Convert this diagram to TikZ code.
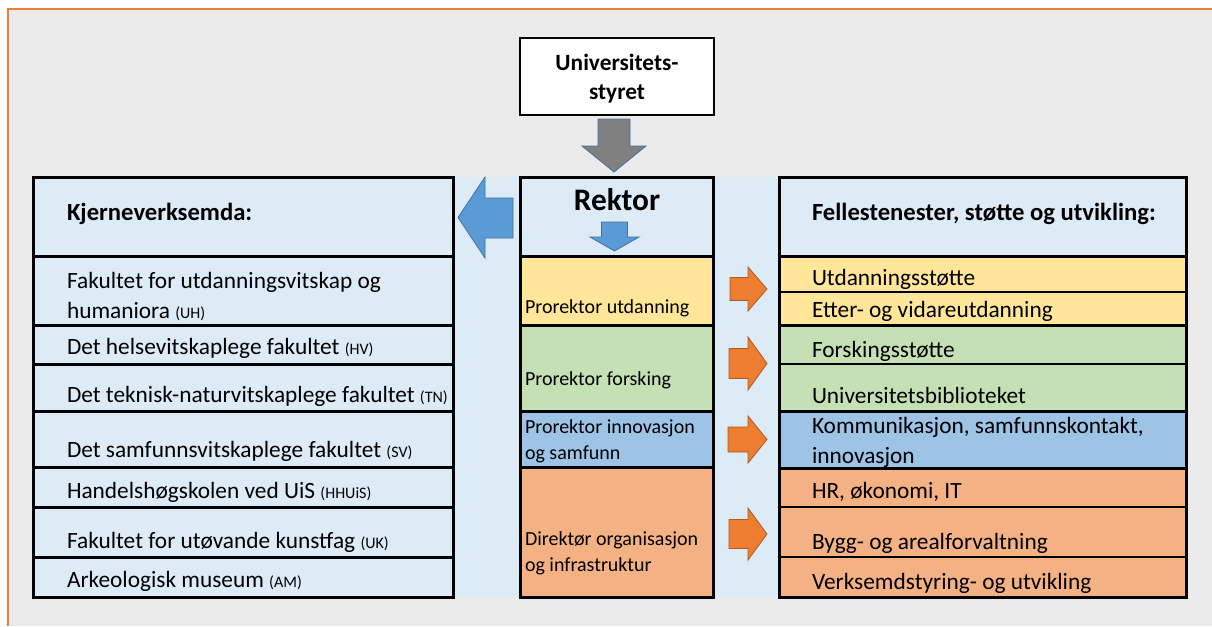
\documentclass[tikz,border=0pt]{standalone}
\usepackage{fontspec}
\setmainfont{Carlito}
\usetikzlibrary{fit}

\definecolor{pageback}{HTML}{EBEBEB}
\definecolor{frameorange}{HTML}{ED7D31}
\definecolor{paleblue}{HTML}{DDEBF7}
\definecolor{rowyellow}{HTML}{FFE699}
\definecolor{rowgreen}{HTML}{C5E0B4}
\definecolor{rowblue}{HTML}{9DC3E6}
\definecolor{roworange}{HTML}{F4B183}
\definecolor{arrowblue}{HTML}{5B9BD5}
\definecolor{arrowedge}{HTML}{41719C}
\definecolor{arroworange}{HTML}{ED7D31}
\definecolor{arroworangeedge}{HTML}{AE5A21}

\newcommand\fakabbr[1]{{\fontsize{12}{12}\selectfont(#1)}}

\begin{document}
\begin{tikzpicture}[x=0.75pt,y=-0.75pt,
        every node/.style={inner sep=0,outer sep=0},
        thickbox/.style={draw,line width=2.25pt,fit={#1}},
        thinbox/.style={draw,line width=0.8pt,fit={#1}},
        txt/.style={anchor=base west,align=left,font=\fontsize{17.5}{22.5}\selectfont},
        midtxt/.style={anchor=base west,align=left,font=\fontsize{15}{18.8}\selectfont},
        headtxt/.style={anchor=base west,font=\fontsize{18.5}{20}\selectfont\bfseries},
        blockarrow/.style={fill=arrowblue,draw=arrowedge,line width=0.6pt},
        orangearrow/.style={fill=arroworange,draw=arroworangeedge,line width=0.6pt}
    ]
    \useasboundingbox (0,0) rectangle (1212,626);

    % background and frame
    \fill[pageback] (7.5,8.5) rectangle (1212,626);
    \draw[frameorange,line width=1.5pt] (7.5,626) -- (7.5,8.5) -- (1212,8.5);
    \fill[paleblue] (33,177) rectangle (1186,597);

    % board
    \node[draw,fill=white,line width=1.1pt,fit={(520,38)(714,115)}] (STYRE) {};
    \node[align=center,font=\fontsize{17.5}{21.75}\selectfont\bfseries,anchor=base] (STYRE-txt) at (617,99) {Universitets-\\styret};

    % core activities (left)
    \node[thickbox={(33,177)(453,256)},fill=paleblue] (KJ) {};
    \node[thickbox={(33,256)(453,325)},fill=paleblue] (UH) {};
    \node[thickbox={(33,325)(453,364)},fill=paleblue] (HV) {};
    \node[thickbox={(33,364)(453,411)},fill=paleblue] (TN) {};
    \node[thickbox={(33,411)(453,467)},fill=paleblue] (SV) {};
    \node[thickbox={(33,467)(453,507)},fill=paleblue] (HH) {};
    \node[thickbox={(33,507)(453,557)},fill=paleblue] (UK) {};
    \node[thickbox={(33,557)(453,597)},fill=paleblue] (AM) {};

    \node[headtxt] (KJ-txt) at (67,220) {Kjerneverksemda:};
    \node[txt] (UH-txt) at (67,318) {Fakultet for utdanningsvitskap og\\humaniora \fakabbr{UH}};
    \node[txt] (HV-txt) at (67,354) {Det helsevitskaplege fakultet \fakabbr{HV}};
    \node[txt] (TN-txt) at (67,402) {Det teknisk-naturvitskaplege fakultet \fakabbr{TN}};
    \node[txt] (SV-txt) at (67,457) {Det samfunnsvitskaplege fakultet \fakabbr{SV}};
    \node[txt] (HH-txt) at (67,498) {Handelshøgskolen ved UiS \fakabbr{HHUiS}};
    \node[txt] (UK-txt) at (67,548) {Fakultet for utøvande kunstfag \fakabbr{UK}};
    \node[txt] (AM-txt) at (67,587) {Arkeologisk museum \fakabbr{AM}};

    % management (middle)
    \node[thickbox={(520,177)(713,256)},fill=paleblue] (REKTOR) {};
    \node[thickbox={(520,256)(713,325)},fill=rowyellow] (PU) {};
    \node[thickbox={(520,325)(713,411)},fill=rowgreen] (PF) {};
    \node[thickbox={(520,411)(713,467)},fill=rowblue] (PI) {};
    \node[thickbox={(520,467)(713,597)},fill=roworange] (DO) {};

    \node[anchor=base,font=\fontsize{23.5}{26}\selectfont\bfseries] (REKTOR-txt) at (617,210) {Rektor};
    \node[midtxt] (PU-txt) at (525,313) {Prorektor utdanning};
    \node[midtxt] (PF-txt) at (525,385) {Prorektor forsking};
    \node[midtxt] (PI-txt) at (525,459) {Prorektor innovasjon\\og samfunn};
    \node[midtxt] (DO-txt) at (525,571) {Direktør organisasjon\\og infrastruktur};

    % shared services (right)
    \node[thinbox={(779,256)(1186,292)},fill=rowyellow] (UTD) {};
    \node[thinbox={(779,292)(1186,325)},fill=rowyellow] (EVU) {};
    \node[thinbox={(779,325)(1186,364)},fill=rowgreen] (FOS) {};
    \node[thinbox={(779,364)(1186,411)},fill=rowgreen] (UB) {};
    \node[thinbox={(779,411)(1186,468)},fill=rowblue] (KOM) {};
    \node[thinbox={(779,468)(1186,507)},fill=roworange] (HR) {};
    \node[thinbox={(779,507)(1186,557)},fill=roworange] (BYGG) {};
    \node[thinbox={(779,557)(1186,597)},fill=roworange] (VS) {};
    \node[thickbox={(779,177)(1186,256)},fill=paleblue] (FELLES) {};
    \draw[line width=2.25pt] (UTD.north west) rectangle (EVU.south east);
    \draw[line width=2.25pt] (FOS.north west) rectangle (UB.south east);
    \draw[line width=2.25pt] (KOM.north west) rectangle (KOM.south east);
    \draw[line width=2.25pt] (HR.north west) rectangle (VS.south east);

    \node[headtxt] (FELLES-txt) at (812,220) {Fellestenester, støtte og utvikling:};
    \node[txt] (UTD-txt) at (812,285) {Utdanningsstøtte};
    \node[txt] (EVU-txt) at (812,317) {Etter- og vidareutdanning};
    \node[txt] (FOS-txt) at (812,357) {Forskingsstøtte};
    \node[txt] (UB-txt) at (812,403) {Universitetsbiblioteket};
    \node[txt] (KOM-txt) at (812,463) {Kommunikasjon, samfunnskontakt,\\innovasjon};
    \node[txt] (HR-txt) at (812,498) {HR, økonomi, IT};
    \node[txt] (BYGG-txt) at (812,549) {Bygg- og arealforvaltning};
    \node[txt] (VS-txt) at (812,589) {Verksemdstyring- og utvikling};

    % block arrows
    \filldraw[blockarrow,fill=gray] (598,119) -- (630,119) -- (630,146) -- (646,146)
        -- (614,172) -- (582,146) -- (598,146) -- cycle;
    \filldraw[blockarrow] (601.5,222) -- (627.5,222) -- (627.5,237) -- (639,237)
        -- (614.5,251) -- (590,237) -- (601.5,237) -- cycle;
    \filldraw[blockarrow] (458,217.5) -- (485,177) -- (485,198) -- (513,198)
        -- (513,238) -- (485,238) -- (485,258) -- cycle;
    \filldraw[orangearrow] (730,277.5) -- (748,277.5) -- (748,267) -- (767,289)
        -- (748,311) -- (748,300.5) -- (730,300.5) -- cycle;
    \filldraw[orangearrow] (729,348.5) -- (748,348.5) -- (748,337) -- (767,363.5)
        -- (748,390) -- (748,378.5) -- (729,378.5) -- cycle;
    \filldraw[orangearrow] (728,427) -- (748,427) -- (748,416) -- (767,439.5)
        -- (748,463) -- (748,452) -- (728,452) -- cycle;
    \filldraw[orangearrow] (729,519.5) -- (748,519.5) -- (748,508) -- (767,534)
        -- (748,560) -- (748,548.5) -- (729,548.5) -- cycle;
\end{tikzpicture}
\end{document}
